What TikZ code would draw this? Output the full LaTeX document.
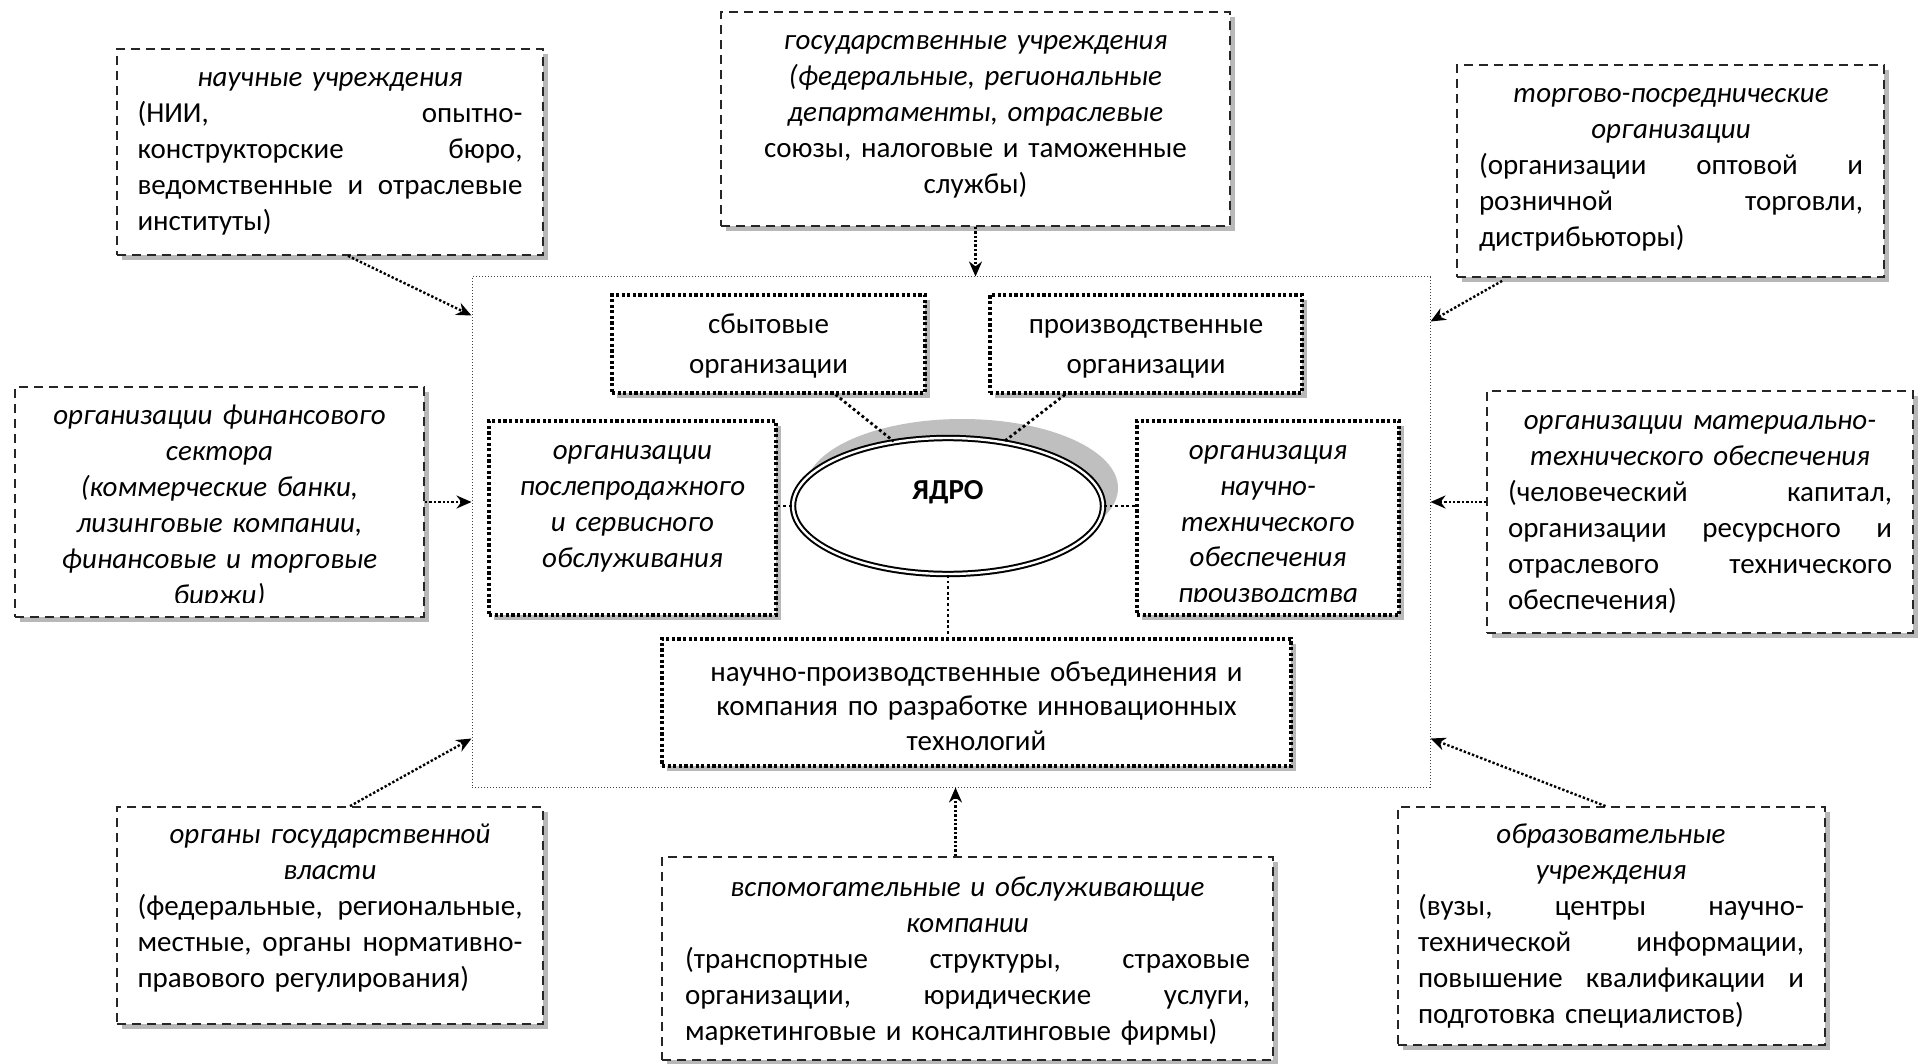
\documentclass[tikz,border=0pt]{standalone}
\usepackage{fontspec}
\setmainfont{Carlito}
\usetikzlibrary{arrows.meta,calc,fit,shadows,shapes.geometric}
\newcommand\firstln{\rule{0pt}{14pt}}
\tikzset{
  basefont/.style={font=\fontsize{14.5}{18}\selectfont},
  shd/.style={drop shadow={shadow xshift=2.5pt, shadow yshift=-2.5pt, opacity=0.28, fill=black}},
  obox/.style={draw=black!85, line width=0.9pt, dash pattern=on 4.5pt off 3pt, fill=white, inner sep=0pt, shd},
  ibox/.style={draw=black, line width=1.6pt, dash pattern=on 1.6pt off 1.2pt, fill=white, inner sep=0pt, shd},
  sysbox/.style={draw=black!75, line width=0.5pt, dash pattern=on 0.5pt off 1pt, inner sep=0pt},
  txt/.style={inner sep=0pt, align=center, basefont, anchor=north},
  arr/.style={line width=1.2pt, dash pattern=on 1.2pt off 1pt, -{Stealth[length=7.5pt,width=6.5pt]}},
  conn/.style={line width=1.4pt, dash pattern=on 1.4pt off 1.4pt},
}
\begin{document}
\begin{tikzpicture}[x=0.5pt,y=-0.5pt]
\useasboundingbox (0,0) rectangle (1928,1064);

% system frame
\node[sysbox, fit={(472,277)(1430,787)}] (sys) {};

% inner boxes
\node[ibox, fit={(612,295)(925,393)}] (sb) {};
\node[txt, text width=150pt, font=\fontsize{14.5}{20}\selectfont] (sbt) at (768.5,305) {\firstln сбытовые\\организации};
\node[ibox, fit={(990,295)(1302,393)}] (pr) {};
\node[txt, text width=150pt, font=\fontsize{14.5}{20}\selectfont] (prt) at (1146,305) {\firstln производственные\\организации};
\node[ibox, fit={(489,421)(776,615)}] (po) {};
\node[txt, text width=140pt] (pot) at (632.5,431) {\firstln\itshape организации\\послепродажного\\и сервисного\\обслуживания};
\node[ibox, fit={(1137,421)(1399,615)}] (nt) {};
\begin{scope}
\clip (1137,421) rectangle (1399,601);
\node[txt, text width=125pt, font=\fontsize{14.5}{17.9}\selectfont] (ntt) at (1268,431) {\firstln\itshape организация\\научно-\\технического\\обеспечения\\производства};
\end{scope}
\node[ibox, fit={(662,639)(1291,766)}] (np) {};
\node[txt, text width=300pt, font=\fontsize{14.5}{17.25}\selectfont] (npt) at (976.5,653) {\firstln научно-производственные объединения и\\компания по разработке инновационных\\технологий};

% core
\fill[black!25] (962,488) ellipse [x radius=78pt, y radius=34.5pt];
\node[draw, ellipse, line width=1pt, double=white, double distance=1.2pt, fill=white, minimum width=155pt, minimum height=68pt, inner sep=0pt] (core) at (948,506) {};
\node[inner sep=0pt, anchor=base, font=\fontsize{14.5}{18}\selectfont\bfseries] (corel) at (948,499) {ЯДРО};

\draw[conn] ($(sb.south)+(67,0)$) -- (core.130);
\draw[conn] ($(pr.south)+(-81,0)$) -- (core.49);
\draw[conn] (core.west -| po.east) -- (core.west);
\draw[conn] (core.east) -- (core.east -| nt.west);
\draw[conn] (core.south) -- (core.south |- np.north);

% outer boxes
\node[obox, fit={(117,49)(543,255)}] (b1) {};
\node[txt, text width=192.5pt] (b1t) at (330,58) {\firstln\textit{научные учреждения}\\
(НИИ,\hfill опытно-\\
конструкторские\hfill бюро,\\
ведомственные\hfill и\hfill отраслевые\\
институты)\hfill\null};

\node[obox, fit={(721,12)(1230,226)}] (b2) {};
\node[txt, text width=230pt] (b2t) at (975.5,21) {\firstln\itshape государственные учреждения\\
(федеральные, региональные\\
департаменты, отраслевые\\
\upshape союзы, налоговые и таможенные\\
службы)};

\node[obox, fit={(1457,65)(1884,277)}] (b3) {};
\node[txt, text width=192pt] (b3t) at (1671,74) {\firstln\textit{торгово-посреднические}\\
\textit{организации}\\
(организации\hfill оптовой\hfill и\\
розничной\hfill торговли,\\
дистрибьюторы)\hfill\null};

\node[obox, fit={(15,387)(424,617)}] (b4) {};
\begin{scope}
\clip (15,387) rectangle (424,602);
\node[txt, text width=195pt] (b4t) at (219.5,396) {\firstln\itshape организации финансового\\
сектора\\
(коммерческие банки,\\
лизинговые компании,\\
финансовые и торговые\\
биржи)};
\end{scope}

\node[obox, fit={(1487,391)(1913,633)}] (b5) {};
\node[txt, text width=192pt] (b5t) at (1700,401) {\firstln\textit{организации материально-}\\
\textit{технического обеспечения}\\
(человеческий\hfill капитал,\\
организации\hfill ресурсного\hfill и\\
отраслевого\hfill технического\\
обеспечения)\hfill\null};

\node[obox, fit={(117,807)(543,1024)}] (b6) {};
\node[txt, text width=192.5pt] (b6t) at (330,815) {\firstln\textit{органы государственной}\\
\textit{власти}\\
(федеральные,\hfill региональные,\\
местные,\hfill органы\hfill нормативно-\\
правового регулирования)\hfill\null};

\node[obox, fit={(662,857)(1273,1060)}] (b7) {};
\node[txt, text width=282.5pt] (b7t) at (967.5,868) {\firstln\textit{вспомогательные и обслуживающие}\\
\textit{компании}\\
(транспортные\hfill структуры,\hfill страховые\\
организации,\hfill юридические\hfill услуги,\\
маркетинговые и консалтинговые фирмы)\hfill\null};

\node[obox, fit={(1398,807)(1825,1045)}] (b8) {};
\node[txt, text width=193pt] (b8t) at (1611,815) {\firstln\textit{образовательные}\\
\textit{учреждения}\\
(вузы,\hfill центры\hfill научно-\\
технической\hfill информации,\\
повышение\hfill квалификации\hfill и\\
подготовка специалистов)\hfill\null};

% arrows into the system
\draw[arr] ($(b1.south)+(18,0)$) -- ($(sys.north west)+(0,39)$);
\draw[arr] (b2.south) -- (b2.south |- sys.north);
\draw[arr] ($(b3.south west)+(46,3)$) -- ($(sys.north east)+(0,45)$);
\draw[arr] (b4.east) -- (b4.east -| sys.west);
\coordinate (b5a) at ($(b5.west)+(0,-10)$);
\draw[arr] (b5a) -- (b5a -| sys.east);
\draw[arr] ($(b6.north)+(20,0)$) -- ($(sys.south west)+(0,-49)$);
\coordinate (b7a) at ($(b7.north)+(-12,0)$);
\draw[arr] (b7a) -- (b7a |- sys.south);
\draw[arr] ($(b8.north)+(-6,0)$) -- ($(sys.south east)+(0,-49)$);
\end{tikzpicture}
\end{document}
